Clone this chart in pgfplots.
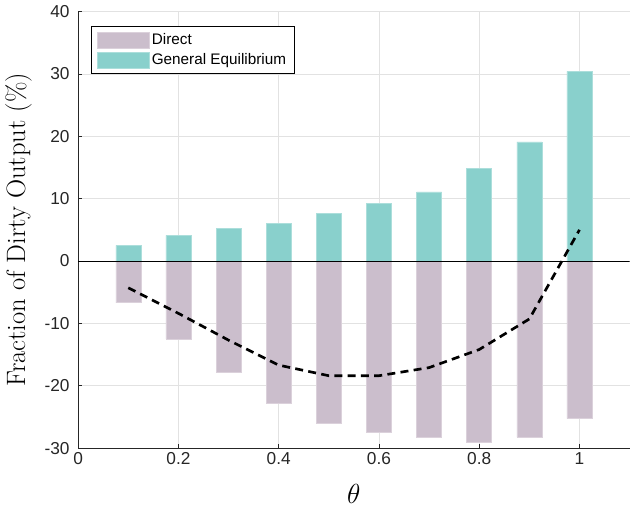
\documentclass[border=0pt]{standalone}
\usepackage{fontspec}
\usepackage{pgfplots}
\pgfplotsset{compat=1.18}
\newfontfamily\helv{Liberation Sans}
\definecolor{direct}{RGB}{203,190,204}
\definecolor{ge}{RGB}{137,208,204}
\definecolor{axgray}{RGB}{38,38,38}
\definecolor{gridgray}{RGB}{226,226,226}
\pgfplotsset{barleg/.style={legend image code/.code={\fill[##1] (0pt,-6pt) rectangle (39pt,6pt);}}}
\begin{document}
\begin{tikzpicture}
\begin{axis}[
  scale only axis,
  width=415pt, height=328.5pt,
  xmin=0, xmax=1.1, ymin=-30, ymax=40,
  axis x line*=bottom, axis y line*=left,
  axis line style={axgray, line width=0.6pt},
  xtick={0,0.2,0.4,0.6,0.8,1},
  ytick={-30,-20,-10,0,10,20,30,40},
  xticklabels={0,0.2,0.4,0.6,0.8,1},
  yticklabels={-30,-20,-10,0,10,20,30,40},
  tick align=inside,
  major tick length=3pt,
  tick style={axgray, line width=0.5pt},
  grid=major,
  grid style={gridgray, line width=0.6pt},
  ticklabel style={font=\helv\fontsize{13}{15}\selectfont, text=axgray},
  yticklabel style={xshift=-3pt, inner ysep=4.1pt},
  /pgf/number format/assume math mode=true,
  xlabel={$\theta$},
  xlabel style={font=\fontsize{20}{23}\selectfont, inner ysep=3pt, yshift=-7.8pt},
  ylabel={Fraction of Dirty Output (\%)},
  ylabel style={font=\fontsize{20}{23}\selectfont, inner ysep=4pt, yshift=2pt},
  legend style={at={(0.0235,0.966)}, anchor=north west, draw=black, line width=0.6pt,
    font=\helv\fontsize{11.5}{13.5}\selectfont, inner xsep=4pt, inner ysep=3pt, row sep=1.25pt,
    cells={anchor=west}},
  legend cell align=left,
]
\addplot[ybar, bar width=0.05, bar shift=0pt, fill=direct, draw=direct!70!white, line width=0.4pt, barleg]
  coordinates {(0.1,-6.7) (0.2,-12.5) (0.3,-17.9) (0.4,-22.8) (0.5,-26.0) (0.6,-27.5) (0.7,-28.3) (0.8,-29.1) (0.9,-28.3) (1.0,-25.3)};
\addlegendentry{Direct}
\addplot[ybar, bar width=0.05, bar shift=0pt, fill=ge, draw=ge!70!white, line width=0.4pt, barleg]
  coordinates {(0.1,2.5) (0.2,4.1) (0.3,5.2) (0.4,6.0) (0.5,7.6) (0.6,9.2) (0.7,11.1) (0.8,14.8) (0.9,19.1) (1.0,30.4)};
\addlegendentry{General Equilibrium}
\addplot[black, line width=0.5pt, forget plot] coordinates {(0,0) (1.1,0)};
\addplot[black, line width=2pt, dash pattern=on 6pt off 4pt, forget plot]
  coordinates {(0.1,-4.3) (0.2,-8.4) (0.3,-12.7) (0.4,-16.7) (0.5,-18.4) (0.6,-18.4) (0.7,-17.1) (0.8,-14.2) (0.9,-9.3) (1.0,5.0)};
\end{axis}
\end{tikzpicture}
\end{document}
